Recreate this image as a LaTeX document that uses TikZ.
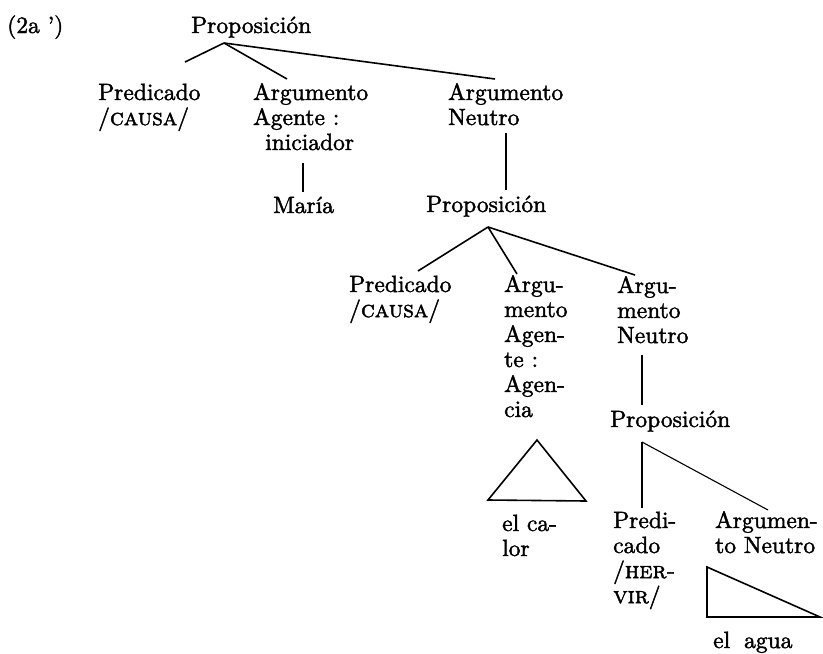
\documentclass[tikz,border=0pt]{standalone}
\usepackage{fontspec}
\setmainfont{lmroman10-regular.otf}[FakeBold=1.8,
  SmallCapsFont=lmromancaps10-regular.otf, SmallCapsFeatures={FakeBold=1.8}]
\usepackage{tikz}
\newcommand\mltext[1]{\begin{tabular}[t]{@{}l@{}}#1\end{tabular}}
\begin{document}
\begin{tikzpicture}[x=1pt,y=-1pt,
  lbl/.style={anchor=base west, inner sep=0pt, font=\fontsize{23.5}{25}\selectfont},
  edge/.style={line width=1.6pt},
  thinedge/.style={line width=1.1pt}]
\useasboundingbox[fill=white] (0,0) rectangle (823,654);

% text nodes
\node[lbl] (ex) at (7,33) {(2a ’)};
\node[lbl] (p1) at (191,33) {Proposición};
\node[lbl] (pred1) at (98,100) {\mltext{Predicado\\/\textsc{causa}/}};
\node[lbl] (ag1) at (253,100) {\mltext{Argumento\\Agente :\\\hspace*{12pt}iniciador}};
\node[lbl] (maria) at (273,213) {María};
\node[lbl] (neu1) at (448,100) {\mltext{Argumento\\Neutro}};
\node[lbl] (p2) at (426,212) {Proposición};
\node[lbl] (pred2) at (349,292) {\mltext{Predicado\\/\textsc{causa}/}};
\node[lbl] (ag2) at (504,292) {\mltext{Argu-\\mento\\Agen-\\te :\\Agen-\\cia}};
\node[lbl] (neu2) at (617,293) {\mltext{Argu-\\mento\\Neutro}};
\node[lbl] (p3) at (610,427) {Proposición};
\node[lbl] (calor) at (502,531) {\mltext{el ca-\\lor}};
\node[lbl] (pred3) at (613,528) {\mltext{Predi-\\cado\\/\textsc{her-}\\\textsc{vir}/}};
\node[lbl] (neu3) at (715,528) {\mltext{Argumen-\\to Neutro}};
\node[lbl] (agua) at (713,648) {el\hspace{14pt}agua};

% connector end points
\coordinate (p1apex) at (224,43);
\coordinate (pred1top) at (185,62);
\coordinate (ag1top) at (287,79);
\coordinate (neu1top) at (495,79);
\coordinate (ag1bot) at (303,163);
\coordinate (mariatop) at (303,192);
\coordinate (neu1bot) at (506,133);
\coordinate (p2top) at (506,190);
\coordinate (p2apex) at (488,227);
\coordinate (pred2top) at (418,271);
\coordinate (ag2top) at (517,274);
\coordinate (neu2top) at (635,275);
\coordinate (neu2bot) at (642,355);
\coordinate (p3top) at (642,405);
\coordinate (tria) at (537,440);
\coordinate (trib) at (488,500);
\coordinate (tric) at (586,501);
\coordinate (p3apex) at (642,442);
\coordinate (pred3top) at (642,508);
\coordinate (neu3top) at (768,510);
\coordinate (trid) at (707,567);
\coordinate (trie) at (707,617);
\coordinate (trif) at (820,617);

% connectors
\draw[edge] (p1apex) -- (pred1top);
\draw[edge] (p1apex) -- (ag1top);
\draw[edge] (p1apex) -- (neu1top);
\draw[thinedge] (ag1bot) -- (mariatop);
\draw[edge] (neu1bot) -- (p2top);
\draw[edge] (p2apex) -- (pred2top);
\draw[edge] (p2apex) -- (ag2top);
\draw[edge] (p2apex) -- (neu2top);
\draw[edge] (neu2bot) -- (p3top);
\draw[edge, line join=miter] (tria) -- (trib) -- (tric) -- cycle;
\draw[edge] (p3apex) -- (pred3top);
\draw[thinedge] (p3apex) -- (neu3top);
\draw[edge, line join=miter] (trid) -- (trie) -- (trif) -- cycle;
\end{tikzpicture}
\end{document}
